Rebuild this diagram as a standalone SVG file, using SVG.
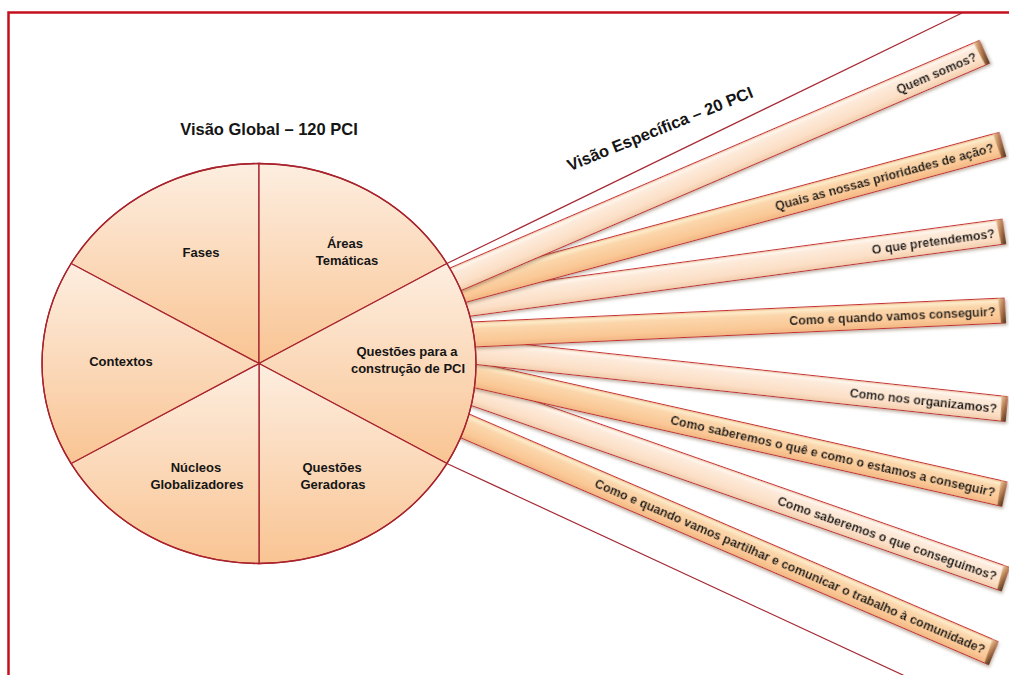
<svg xmlns="http://www.w3.org/2000/svg" width="1009" height="675" viewBox="0 0 1009 675">
<defs>
  <style>
    .t { font-family: "Liberation Sans", Arial, sans-serif; font-weight: bold; fill: #151515; }
    .sec { font-size: 13px; text-anchor: middle; }
    .title { font-size: 16.5px; }
    .bt { font-size: 12.4px; text-anchor: end; }
    .div { stroke: #a8232d; stroke-width: 1.3; }
    .sf { fill: url(#secG); }
    .beam { stroke: #c42a30; stroke-width: 1; }
    .thin { stroke: #a52a35; stroke-width: 1.2; fill: none; }
  </style>
  <linearGradient id="secG" x1="0" y1="0" x2="0" y2="1">
    <stop offset="0" stop-color="#fdeee0"/>
    <stop offset="1" stop-color="#f9c493"/>
  </linearGradient>
  <linearGradient id="beamL" x1="0" y1="0" x2="0" y2="1">
    <stop offset="0" stop-color="#efbc9c"/>
    <stop offset="0.1" stop-color="#fff7ee"/>
    <stop offset="0.25" stop-color="#fdeadA"/>
    <stop offset="0.75" stop-color="#fcdfc6"/>
    <stop offset="1" stop-color="#f2ccac"/>
  </linearGradient>
  <linearGradient id="beamD" x1="0" y1="0" x2="0" y2="1">
    <stop offset="0" stop-color="#f0b385"/>
    <stop offset="0.1" stop-color="#fdedcc"/>
    <stop offset="0.28" stop-color="#fbd6ab"/>
    <stop offset="0.75" stop-color="#fac896"/>
    <stop offset="1" stop-color="#f2b683"/>
  </linearGradient>
  <linearGradient id="capG" x1="0" y1="0" x2="1" y2="1">
    <stop offset="0" stop-color="#f3c9a0"/>
    <stop offset="0.5" stop-color="#b07a4e"/>
    <stop offset="1" stop-color="#4e3018"/>
  </linearGradient>
  <filter id="sh" x="-5%" y="-30%" width="110%" height="160%">
    <feDropShadow dx="1.5" dy="2" stdDeviation="1.4" flood-color="#6b4a30" flood-opacity="0.4"/>
  </filter>
</defs>

<rect x="8.5" y="12.5" width="1010" height="670" fill="#ffffff" stroke="#c4101e" stroke-width="2.5"/>

<g id="connectors">
  <g id="beam8" transform="translate(993,653) rotate(23.27)" filter="url(#sh)">
    <rect class="beam" x="-613" y="-12.5" width="613" height="25" fill="url(#beamD)"/>
    <polygon points="-6,-12.5 0,-12.5 1,12.5 -4,12.5" fill="url(#capG)"/>
    <text class="t bt" x="-9" y="4.5">Como e quando vamos partilhar e comunicar o trabalho à comunidade?</text>
  </g>
  <g id="beam7" transform="translate(1005,579) rotate(19.29)" filter="url(#sh)">
    <rect class="beam" x="-609" y="-12.5" width="609" height="25" fill="url(#beamL)"/>
    <polygon points="-6,-12.5 0,-12.5 1,12.5 -4,12.5" fill="url(#capG)"/>
    <text class="t bt" x="-9" y="4.5">Como saberemos o que conseguimos?</text>
  </g>
  <g id="beam6" transform="translate(1004,494) rotate(12.68)" filter="url(#sh)">
    <rect class="beam" x="-588" y="-12.5" width="588" height="25" fill="url(#beamD)"/>
    <polygon points="-6,-12.5 0,-12.5 1,12.5 -4,12.5" fill="url(#capG)"/>
    <text class="t bt" x="-9" y="4.5">Como saberemos o quê e como o estamos a conseguir?</text>
  </g>
  <g id="beam5" transform="translate(1006,409) rotate(6.16)" filter="url(#sh)">
    <rect class="beam" x="-579" y="-12.5" width="579" height="25" fill="url(#beamL)"/>
    <polygon points="-6,-12.5 0,-12.5 1,12.5 -4,12.5" fill="url(#capG)"/>
    <text class="t bt" x="-9" y="4.5">Como nos organizamos?</text>
  </g>
  <g id="beam4" transform="translate(1004.5,310.5) rotate(-2.58)" filter="url(#sh)">
    <rect class="beam" x="-575" y="-12.5" width="575" height="25" fill="url(#beamD)"/>
    <polygon points="-6,-12.5 0,-12.5 1,12.5 -4,12.5" fill="url(#capG)"/>
    <text class="t bt" x="-9" y="4.5">Como e quando vamos conseguir?</text>
  </g>
  <g id="beam3" transform="translate(1003.5,231.5) rotate(-7.69)" filter="url(#sh)">
    <rect class="beam" x="-579" y="-12.5" width="579" height="25" fill="url(#beamL)"/>
    <polygon points="-6,-12.5 0,-12.5 1,12.5 -4,12.5" fill="url(#capG)"/>
    <text class="t bt" x="-9" y="4.5">O que pretendemos?</text>
  </g>
  <g id="beam2" transform="translate(1002,144.5) rotate(-15.11)" filter="url(#sh)">
    <rect class="beam" x="-592" y="-12.5" width="592" height="25" fill="url(#beamD)"/>
    <polygon points="-6,-12.5 0,-12.5 1,12.5 -4,12.5" fill="url(#capG)"/>
    <text class="t bt" x="-9" y="4.5">Quais as nossas prioridades de ação?</text>
  </g>
  <g id="beam1" transform="translate(984,52) rotate(-23.27)" filter="url(#sh)">
    <rect class="beam" x="-603" y="-12.5" width="603" height="25" fill="url(#beamL)"/>
    <polygon points="-6,-12.5 0,-12.5 1,12.5 -4,12.5" fill="url(#capG)"/>
    <text class="t bt" x="-9" y="4.5">Quem somos?</text>
  </g>
  <line class="thin" x1="446.9" y1="263.5" x2="962" y2="13"/>
  <line class="thin" x1="446.9" y1="463.5" x2="905" y2="676"/>
</g>

<g id="circle">
  <g id="s-fases">
    <path d="M259,363.5 L259,163.5 A217,200 0 0 0 71.1,263.5 Z" class="div sf"/>
    <text class="t sec" x="201" y="257">Fases</text>
  </g>
  <g id="s-areas">
    <path d="M259,363.5 L446.9,263.5 A217,200 0 0 0 259,163.5 Z" class="div sf"/>
    <text class="t sec" x="345" y="248">Áreas</text>
    <text class="t sec" x="347" y="265">Temáticas</text>
  </g>
  <g id="s-questoes-pci">
    <path d="M259,363.5 L446.9,463.5 A217,200 0 0 0 446.9,263.5 Z" class="div sf"/>
    <text class="t sec" x="407" y="356">Questões para a</text>
    <text class="t sec" x="408" y="373">construção de PCI</text>
  </g>
  <g id="s-geradoras">
    <path d="M259,363.5 L259,563.5 A217,200 0 0 0 446.9,463.5 Z" class="div sf"/>
    <text class="t sec" x="332" y="472">Questões</text>
    <text class="t sec" x="333" y="489">Geradoras</text>
  </g>
  <g id="s-nucleos">
    <path d="M259,363.5 L71.1,463.5 A217,200 0 0 0 259,563.5 Z" class="div sf"/>
    <text class="t sec" x="196" y="472">Núcleos</text>
    <text class="t sec" x="197" y="489">Globalizadores</text>
  </g>
  <g id="s-contextos">
    <path d="M259,363.5 L71.1,263.5 A217,200 0 0 0 71.1,463.5 Z" class="div sf"/>
    <text class="t sec" x="121" y="366">Contextos</text>
  </g>
  <ellipse cx="259" cy="363.5" rx="217" ry="200" class="div" fill="none"/>
</g>

<g id="titles">
  <text class="t title" x="269" y="135" text-anchor="middle">Visão Global – 120 PCI</text>
  <text class="t title" x="0" y="0" text-anchor="middle" transform="translate(662,134) rotate(-22)">Visão Específica – 20 PCI</text>
</g>
</svg>
